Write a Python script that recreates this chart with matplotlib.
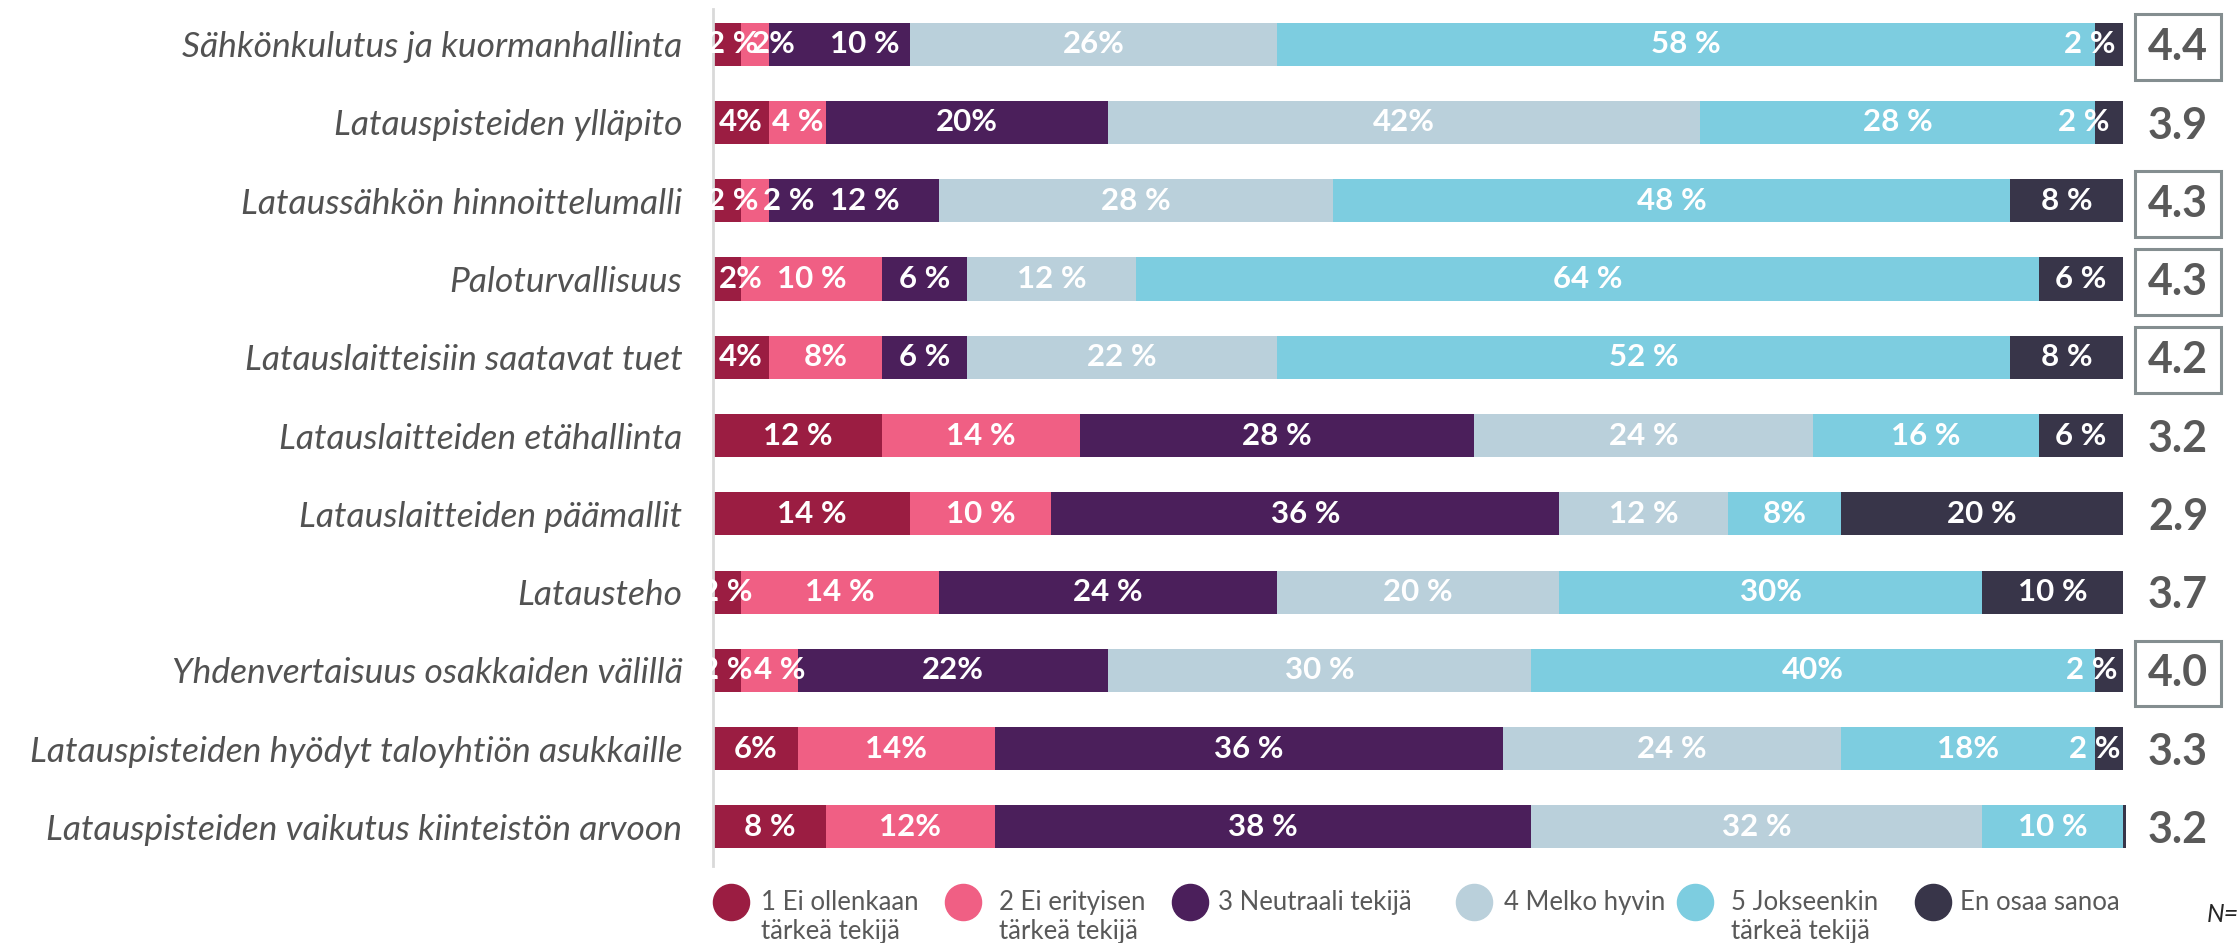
import matplotlib.pyplot as plt
import matplotlib.transforms as mtransforms
from matplotlib.lines import Line2D

plt.rcParams['font.family'] = ['Lato', 'DejaVu Sans']

# aineisto
categories = [
    "Sähkönkulutus ja kuormanhallinta",
    "Latauspisteiden ylläpito",
    "Lataussähkön hinnoittelumalli",
    "Paloturvallisuus",
    "Latauslaitteisiin saatavat tuet",
    "Latauslaitteiden etähallinta",
    "Latauslaitteiden päämallit",
    "Latausteho",
    "Yhdenvertaisuus osakkaiden välillä",
    "Latauspisteiden hyödyt taloyhtiön asukkaille",
    "Latauspisteiden vaikutus kiinteistön arvoon",
]
series = ["1 Ei ollenkaan\ntärkeä tekijä", "2 Ei erityisen\ntärkeä tekijä",
          "3 Neutraali tekijä", "4 Melko hyvin", "5 Jokseenkin\ntärkeä tekijä",
          "En osaa sanoa"]

ei_ollenkaan = [2, 4, 2, 2, 4, 12, 14, 2, 2, 6, 8]
ei_erityisen = [2, 4, 2, 10, 8, 14, 10, 14, 4, 14, 12]
neutraali = [10, 20, 12, 6, 6, 28, 36, 24, 22, 36, 38]
melko = [26, 42, 28, 12, 22, 24, 12, 20, 30, 24, 32]
jokseenkin = [58, 28, 48, 64, 52, 16, 8, 30, 40, 18, 10]
en_osaa = [2, 2, 8, 6, 8, 6, 20, 10, 2, 2, 0.2]

# tekstit pylväissä (kirjoitusasu kuten alkuperäisessä)
labels = [
    ["2 %", "2%", "10 %", "26%", "58 %", "2 %"],
    ["4%", "4 %", "20%", "42%", "28 %", "2 %"],
    ["2 %", "2 %", "12 %", "28 %", "48 %", "8 %"],
    ["2%", "10 %", "6 %", "12 %", "64 %", "6 %"],
    ["4%", "8%", "6 %", "22 %", "52 %", "8 %"],
    ["12 %", "14 %", "28 %", "24 %", "16 %", "6 %"],
    ["14 %", "10 %", "36 %", "12 %", "8%", "20 %"],
    ["2 %", "14 %", "24 %", "20 %", "30%", "10 %"],
    ["2 %", "4 %", "22%", "30 %", "40%", "2 %"],
    ["6%", "14%", "36 %", "24 %", "18%", "2 %"],
    ["8 %", "12%", "38 %", "32 %", "10 %", ""],
]
averages = ["4.4", "3.9", "4.3", "4.3", "4.2", "3.2", "2.9", "3.7", "4.0", "3.3", "3.2"]
boxed = [True, False, True, True, True, False, False, False, True, False, False]

colors = ["#9B1D42", "#F05F84", "#4B1F5B", "#BAD0DB", "#7DCDE0", "#383549"]

# tekstien siirrot (prosenttiyksikköinä) pienissä palkeissa
label_dx = {(0, 0): 0.4, (0, 1): 1.3, (0, 2): 1.8, (0, 5): -1.4,
            (1, 5): -1.8, (2, 0): 0.4, (2, 1): 2.4, (2, 2): 0.8,
            (3, 0): 1.0, (8, 1): 0.7, (8, 5): -1.2, (9, 5): -1.0}

W, H = 2237, 943
fig = plt.figure(figsize=(W / 100, H / 100), dpi=100)
ax = fig.add_axes([713 / W, 1 - 866 / H, (2126 - 713) / W, (866 - 9) / H])

data = [ei_ollenkaan, ei_erityisen, neutraali, melko, jokseenkin, en_osaa]
y = list(range(len(categories)))
left = [0.0] * len(categories)
for j, vals in enumerate(data):
    ax.barh(y, vals, left=left, height=0.55, color=colors[j], edgecolor='none')
    for i, v in enumerate(vals):
        txt = labels[i][j]
        if txt:
            ax.text(left[i] + v / 2 + label_dx.get((i, j), 0), i, txt,
                    ha='center', va='center', color='white',
                    fontsize=22.5, fontweight='bold')
    left = [a + b for a, b in zip(left, vals)]

ax.set_xlim(0, 100.2)
ax.set_ylim(10.5, -0.45)
ax.set_yticks(y)
ax.set_yticklabels(categories, fontsize=25.5, style='italic', color='#525252')
ax.tick_params(axis='y', length=0, pad=22)
ax.set_xticks([])
for s in ['top', 'right', 'bottom']:
    ax.spines[s].set_visible(False)
ax.spines['left'].set_color('#D9D9D9')
ax.spines['left'].set_linewidth(2)

# keskiarvot oikealla
trans = mtransforms.blended_transform_factory(fig.transFigure, ax.transData)
for i, (a, b) in enumerate(zip(averages, boxed)):
    kw = {}
    if b:
        kw['bbox'] = dict(boxstyle='square,pad=0.3', fc='white', ec='#848E90', lw=2.2)
    ax.text(2178 / W, i + 0.04, a, transform=trans, ha='center', va='center',
            fontsize=31, fontweight='bold', color='#595959', clip_on=False, **kw)

# selite
mx = [731, 963, 1190, 1474, 1695, 1933]
tx = [761, 999, 1218, 1504, 1731, 1960]
for j, name in enumerate(series):
    fig.add_artist(Line2D([mx[j] / W], [1 - 902 / H], marker='o', markersize=26,
                          color=colors[j], transform=fig.transFigure))
    fig.text(tx[j] / W, 1 - 890 / H, name, ha='left', va='top', fontsize=18.5,
             color='#595959', linespacing=1.2)

fig.text(2207 / W, 1 - 915 / H, "N=50", ha='left', va='center', fontsize=18,
         style='italic', color='#262626')

fig.savefig('out.png', dpi=100)
